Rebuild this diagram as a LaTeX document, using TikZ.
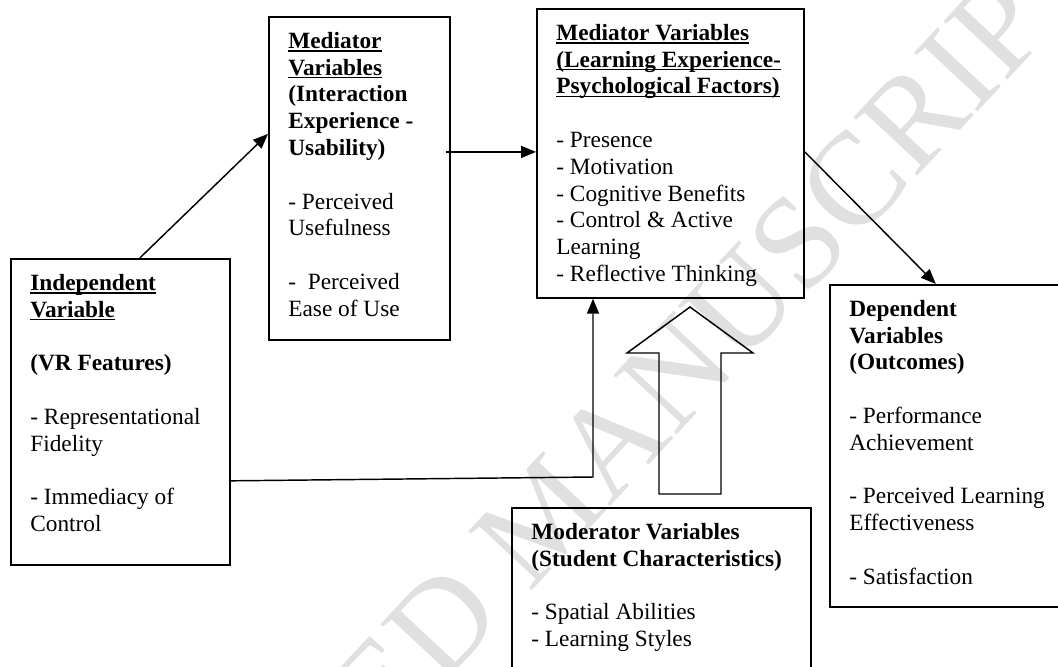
\documentclass[tikz,border=0pt]{standalone}
\usepackage{fontspec}
\setmainfont{Liberation Serif}
\usetikzlibrary{arrows.meta}

% underline that sits just below the baseline
\newcommand{\ulin}[1]{\setbox0=\hbox{#1}\rlap{\rule[-1.7pt]{\wd0}{0.9pt}}\box0}

\tikzset{
  varbox/.style={draw, line width=0.9pt, rectangle, inner sep=0pt, anchor=north west},
  vartext/.style={anchor=north west, align=left, inner xsep=10.3pt, inner ysep=6.8pt,
    font=\fontsize{12}{13.8}\selectfont},
  link/.style={line width=0.75pt, -{Triangle[length=7.7pt,width=6.2pt]}},
}

\begin{document}
\begin{tikzpicture}[x=0.515pt, y=-0.515pt]
  \useasboundingbox (0,0) rectangle (1058,666);
  \clip (0,0) rectangle (1058,666);

  % watermark
  \node[rotate=47, text=black!12, font=\fontsize{68}{68}\selectfont] (stamp) at (544,514) {ACCEPTED MANUSCRIPT};

  \node[varbox, minimum width=112.8pt, minimum height=157.6pt] (indep) at (10,258) {};
  \node[vartext] (indepT) at (indep.north west) {\strut\ulin{\textbf{Independent}}\\
    \ulin{\textbf{Variable}}\\[13.8pt]
    \textbf{(VR Features)}\\[13.8pt]
    - Representational\\
    Fidelity\\[13.8pt]
    - Immediacy of\\
    Control};

  \node[varbox, minimum width=93.2pt, minimum height=166.3pt] (medA) at (268,16) {};
  \node[vartext] (medAT) at (medA.north west) {\strut\ulin{\textbf{Mediator}}\\
    \ulin{\textbf{Variables}}\\
    \textbf{(Interaction}\\
    \textbf{Experience -}\\
    \textbf{Usability)}\\[13.8pt]
    - Perceived\\
    Usefulness\\[13.8pt]
    -\ \ Perceived\\
    Ease of Use};

  \node[varbox, minimum width=137.5pt, minimum height=148.8pt] (medB) at (536,8) {};
  \node[vartext] (medBT) at (medB.north west) {\strut\ulin{\textbf{Mediator Variables}}\\
    \ulin{\textbf{(Learning Experience-}}\\
    \ulin{\textbf{Psychological Factors)}}\\[13.8pt]
    - Presence\\
    - Motivation\\
    - Cognitive Benefits\\
    - Control \& Active\\
    Learning\\
    - Reflective Thinking};

  \node[varbox, minimum width=124.1pt, minimum height=165.8pt] (dep) at (829,284) {};
  \node[vartext] (depT) at (dep.north west) {\strut\textbf{Dependent}\\
    \textbf{Variables}\\
    \textbf{(Outcomes)}\\[13.8pt]
    - Performance\\
    Achievement\\[13.8pt]
    - Perceived Learning\\
    Effectiveness\\[13.8pt]
    - Satisfaction};

  \node[varbox, minimum width=154pt, minimum height=103pt] (moder) at (511,507) {};
  \node[vartext] (moderT) at (moder.north west) {\strut\textbf{Moderator Variables}\\
    \textbf{(Student Characteristics)}\\[13.8pt]
    - Spatial Abilities\\
    - Learning Styles};

  % connectors
  \draw[link] ([xshift=10pt]indep.north) -- ([yshift=22.9pt]medA.west);
  \draw[link] ([xshift=-2.6pt,yshift=13.6pt]medA.east) -- ([yshift=13.6pt]medA.east -| medB.west);
  \draw[link] ([yshift=0.8pt]medB.east) -- ([xshift=-7.5pt]dep.north);
  \coordinate (turn) at (593,477);
  \draw[link] ([yshift=-35.5pt]indep.east) -- (turn) -- (turn |- medB.south);

  % block arrow from the moderators
  \draw[line width=0.75pt] (659,494) -- (659,353) -- (627,353) -- (690,307)
    -- (753,353) -- (721,353) -- (721,494) -- cycle;
\end{tikzpicture}
\end{document}
